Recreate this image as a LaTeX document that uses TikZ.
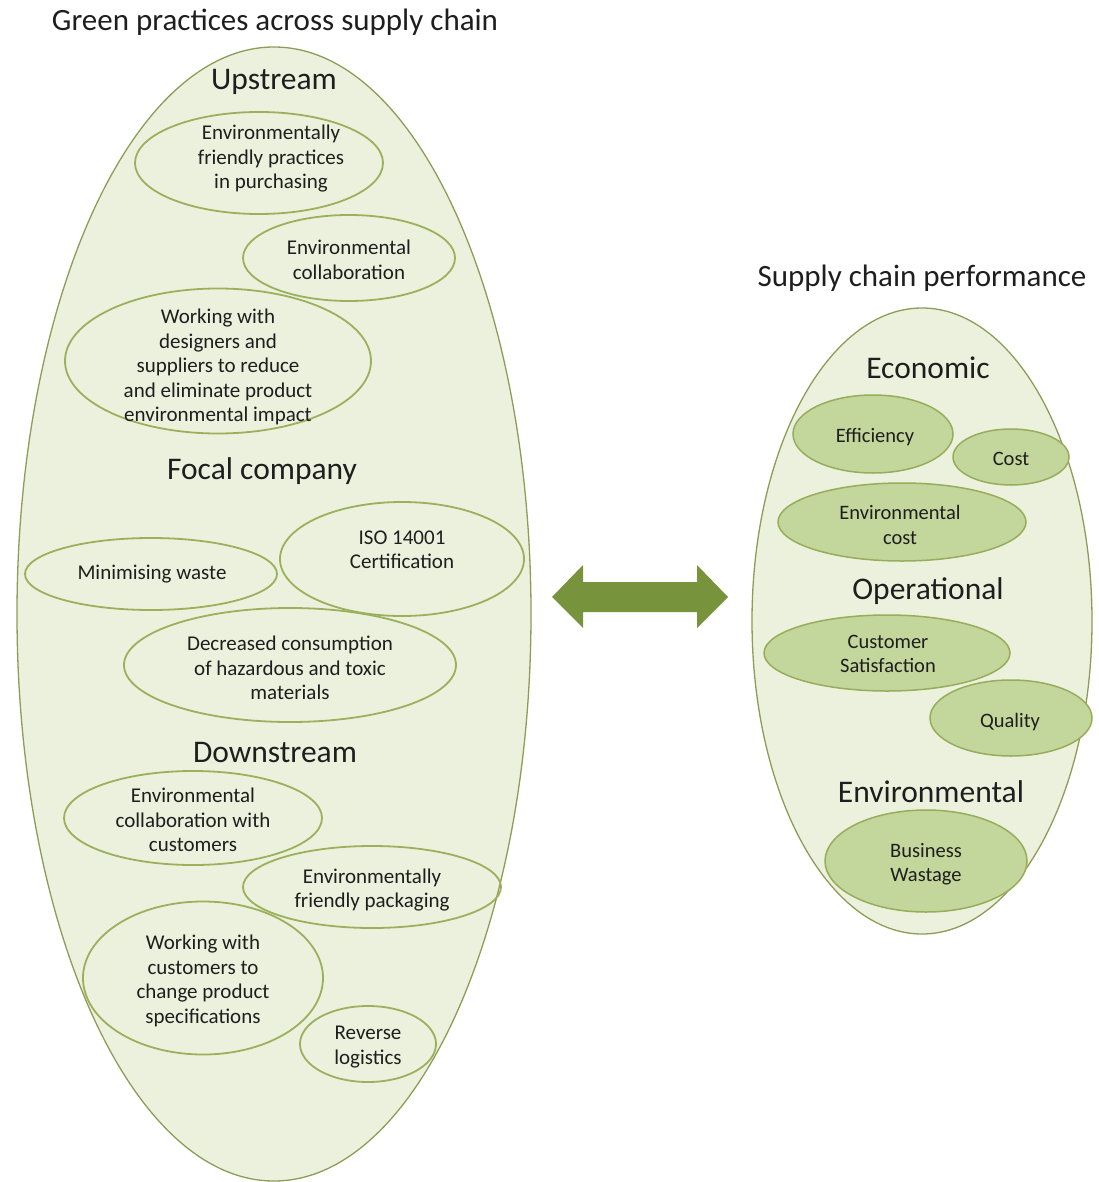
\documentclass[tikz,border=0pt]{standalone}
\usepackage{fontspec}
\setmainfont{Carlito}
\usetikzlibrary{shapes.geometric}
\definecolor{pale}{HTML}{EBF1DD}
\definecolor{outerline}{HTML}{8E9C58}
\definecolor{practline}{HTML}{9CB05C}
\definecolor{measfill}{HTML}{C3D69B}
\definecolor{measline}{HTML}{98AD5A}
\definecolor{arrowgreen}{HTML}{77933C}
\definecolor{ink}{HTML}{1E1E1E}
\begin{document}
\begin{tikzpicture}[x=1pt,y=-1pt,
  outer/.style={ellipse, draw=outerline, fill=pale, line width=1.3pt, inner sep=0pt},
  practice/.style={ellipse, draw=practline, line width=1.8pt, inner sep=0pt},
  measure/.style={ellipse, draw=measline, fill=measfill, line width=1.5pt, inner sep=0pt},
  itemtext/.style={align=center, text=ink, inner sep=0pt, font=\fontsize{21}{24.5}\selectfont},
  measuretext/.style={itemtext, font=\fontsize{20.5}{24.5}\selectfont},
  heading/.style={text=ink, inner sep=0pt, font=\fontsize{31.5}{34}\selectfont},
  title/.style={text=ink, inner sep=0pt, font=\fontsize{31}{34}\selectfont}]
\useasboundingbox (0,0) rectangle (1099,1182);

% titles
\node[title] (tgreen) at (275,22) {Green practices across supply chain};
\node[title] (tperf) at (922,278) {Supply chain performance};

% outer groups
\node[outer, minimum width=514pt, minimum height=1134pt] (green) at (274,614) {};
\node[outer, minimum width=340pt, minimum height=626pt] (perf) at (922,621) {};

% green practices: upstream
\node[heading] (hup) at (274,82) {Upstream};
\node[practice, minimum width=248pt, minimum height=102pt] (p1) at (259,163) {};
\node[itemtext] (t1) at (271,159) {Environmentally\\friendly practices\\in purchasing};
\node[practice, minimum width=212pt, minimum height=86pt] (p2) at (349,258) {};
\node[itemtext] (t2) at (349,260) {Environmental\\collaboration};
\node[practice, minimum width=306pt, minimum height=145pt] (p3) at (218,361) {};
\node[itemtext] (t3) at (218,367) {Working with\\designers and\\suppliers to reduce\\and eliminate product\\environmental impact};

% green practices: focal company
\node[heading] (hfocal) at (262,471) {Focal company};
\node[practice, minimum width=244pt, minimum height=114pt] (p4) at (402,559) {};
\node[itemtext] (t4) at (402,550) {ISO 14001\\Certification};
\node[practice, minimum width=252pt, minimum height=72pt] (p5) at (151,574) {};
\node[itemtext] (t5) at (152,574) {Minimising waste};
\node[practice, minimum width=332pt, minimum height=114pt] (p6) at (290,665) {};
\node[itemtext] (t6) at (290,668) {Decreased consumption\\of hazardous and toxic\\materials};

% green practices: downstream
\node[heading] (hdown) at (275,753) {Downstream};
\node[practice, minimum width=258pt, minimum height=94pt] (p7) at (193,818) {};
\node[itemtext] (t7) at (193,820) {Environmental\\collaboration with\\customers};
\node[practice, minimum width=258pt, minimum height=82pt] (p8) at (372,887) {};
\node[itemtext] (t8) at (372,890) {Environmentally\\friendly packaging};
\node[practice, minimum width=240pt, minimum height=153pt] (p9) at (203,978) {};
\node[itemtext] (t9) at (203,981) {Working with\\customers to\\change product\\specifications};
\node[practice, minimum width=136pt, minimum height=76pt] (p10) at (368,1044) {};
\node[itemtext] (t10) at (368,1047) {Reverse\\logistics};

% supply chain performance
\node[heading] (hecon) at (928,368) {Economic};
\node[measure, minimum width=160pt, minimum height=78pt] (m1) at (873,434) {};
\node[measuretext] (u1) at (875,437) {Efficiency};
\node[measure, minimum width=116pt, minimum height=56pt] (m2) at (1011,457) {};
\node[measuretext] (u2) at (1011,459) {Cost};
\node[measure, minimum width=248pt, minimum height=78pt] (m3) at (902,522) {};
\node[measuretext] (u3) at (900,525) {Environmental\\cost};

\node[heading] (hoper) at (928,591) {Operational};
\node[measure, minimum width=246pt, minimum height=76pt] (m4) at (887,653) {};
\node[measuretext] (u4) at (888,654) {Customer\\Satisfaction};
\node[measure, minimum width=162pt, minimum height=76pt] (m5) at (1011,718) {};
\node[measuretext] (u5) at (1010,722) {Quality};

\node[heading] (henv) at (931,792) {Environmental};
\node[measure, minimum width=202pt, minimum height=102pt] (m6) at (926,861) {};
\node[measuretext] (u6) at (926,864) {Business\\Wastage};

% two-way relation between the groups
\fill[arrowgreen] (552,597) -- (583,565) -- (583,582) -- (697,582) -- (697,565)
  -- (728,597) -- (697,628) -- (697,612) -- (583,612) -- (583,628) -- cycle;
\end{tikzpicture}
\end{document}
